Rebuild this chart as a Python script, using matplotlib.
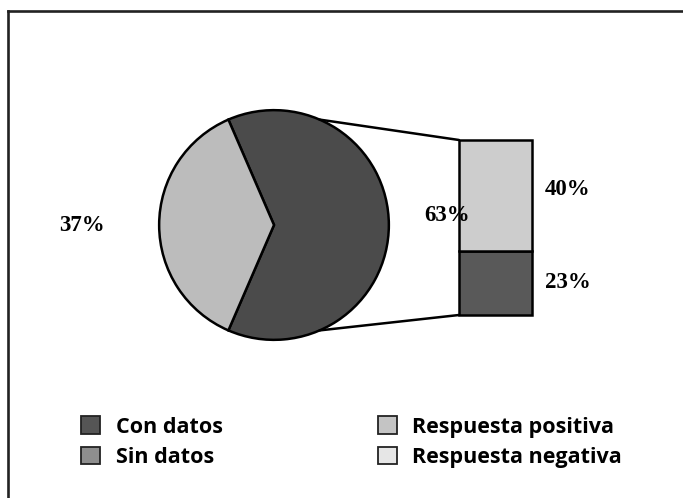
import matplotlib
matplotlib.use('Agg')
from matplotlib import pyplot as plt
from matplotlib.patches import Patch, ConnectionPatch
from matplotlib.lines import Line2D
import numpy as np

# pie: share of cases with / without data
pie_labels = ['Con datos', 'Sin datos']
pie_values = [63, 37]
pie_colors = ['#4b4b4b', '#bcbcbc']

# bar: split of the "con datos" part
bar_labels = ['Respuesta negativa', 'Respuesta positiva']
bar_values = [23, 40]
bar_colors = ['#595959', '#cdcdcd']

legend_labels = ['Con datos', 'Sin datos', 'Respuesta positiva', 'Respuesta negativa']
legend_colors = ['#555555', '#8e8e8e', '#c4c4c4', '#e6e6e6']

W, H = 683, 498
fig = plt.figure(figsize=(W / 100, H / 100), dpi=100)

# outer frame (only left and top edges visible)
fig.add_artist(Line2D([8 / W, 8 / W], [0, 1 - 11 / H], color='#222222', lw=1.9))
fig.add_artist(Line2D([8 / W, 1], [1 - 11 / H, 1 - 11 / H], color='#222222', lw=1.9))

# pie axes
cx, cy, r = 274, 225, 116
ax_pie = fig.add_axes([(cx - r) / W, (H - cy - r) / H, 2 * r / W, 2 * r / H])
start = -pie_values[0] / sum(pie_values) * 360 / 2
ax_pie.pie(pie_values, colors=pie_colors, startangle=start, counterclock=True,
           wedgeprops=dict(edgecolor='black', linewidth=1.8))
ax_pie.set_xlim(-1.01, 1.01)
ax_pie.set_ylim(-1.01, 1.01)
ax_pie.set_aspect('equal')
ax_pie.axis('off')

serif = dict(fontsize=16.5, family='Liberation Serif', weight='bold')
fig.text(82 / W, 1 - 225 / H, f'{pie_values[1]}%', ha='center', va='center', **serif)
fig.text(447 / W, 1 - 215 / H, f'{pie_values[0]}%', ha='center', va='center',
         zorder=5, **serif)

# stacked bar axes
bx0, bx1, by0, by1 = 459, 532, 140, 315
ax_bar = fig.add_axes([bx0 / W, (H - by1) / H, (bx1 - bx0) / W, (by1 - by0) / H])
bottom = 0
for v, c in zip(bar_values, bar_colors):
    ax_bar.bar([0], [v], bottom=bottom, width=1, color=c, edgecolor='black',
               linewidth=1.8, clip_on=False)
    bottom += v
ax_bar.set_xlim(-0.5, 0.5)
ax_bar.set_ylim(0, sum(bar_values))
ax_bar.axis('off')

fig.text(568 / W, 1 - 189 / H, f'{bar_values[1]}%', ha='center', va='center', **serif)
fig.text(568 / W, 1 - 283 / H, f'{bar_values[0]}%', ha='center', va='center', **serif)

# connector lines from pie to bar
ang = np.deg2rad(90 - (360 * pie_values[0] / sum(pie_values) / 2 - 90))
for sgn, yb in [(1, sum(bar_values)), (-1, 0)]:
    con = ConnectionPatch(xyA=(np.cos(ang), sgn * np.sin(ang)), coordsA=ax_pie.transData,
                          xyB=(-0.5, yb), coordsB=ax_bar.transData,
                          color='black', lw=1.8)
    fig.add_artist(con)

# legend
handles = [Patch(facecolor=c, edgecolor='#222222', linewidth=1.3) for c in legend_colors]
fig.legend(handles, legend_labels, ncol=2, loc='upper left',
           bbox_to_anchor=(62 / W, 1 - 397 / H), frameon=False,
           prop=dict(family='Open Sans', weight='bold', size=15.5),
           handlelength=0.88, handleheight=0.88, handletextpad=0.72,
           columnspacing=7.2, labelspacing=0.42)

plt.savefig('out.png', dpi=100)
